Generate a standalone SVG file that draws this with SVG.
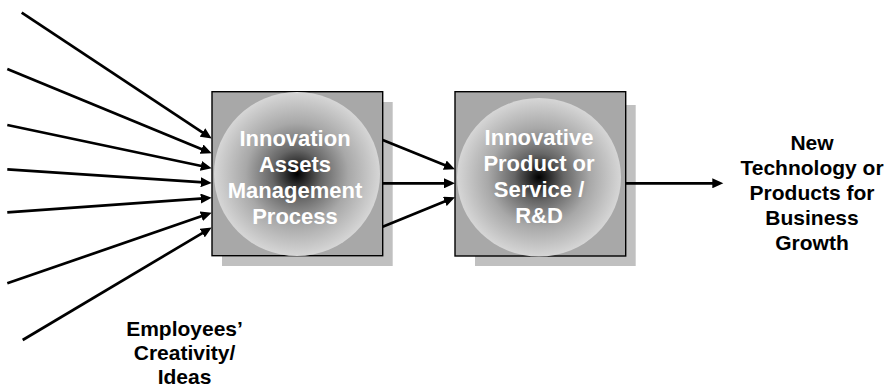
<svg xmlns="http://www.w3.org/2000/svg" width="891" height="388" viewBox="0 0 891 388">
<style>
.box{fill:#a8a8a8;stroke:#000;stroke-width:1.4}
.shadow{fill:#c0c0c0}
.inner{font-family:"Liberation Sans",Arial,Helvetica,sans-serif;font-weight:bold;font-size:22px;fill:#fff;text-anchor:middle}
.label{font-family:"Liberation Sans",Arial,Helvetica,sans-serif;font-weight:bold;font-size:21px;fill:#000;text-anchor:middle}
.conn line{stroke:#000;stroke-width:2.7;marker-end:url(#ah)}
</style>
<defs>
<radialGradient id="glow" cx="50%" cy="50%" r="50%">
<stop offset="0" stop-color="#000"/>
<stop offset="0.3" stop-color="#666"/>
<stop offset="0.62" stop-color="#a8a8a8"/>
<stop offset="1" stop-color="#d6d6d6"/>
</radialGradient>
<marker id="ah" markerUnits="userSpaceOnUse" markerWidth="12" markerHeight="10" refX="3" refY="5" orient="auto">
<path d="M0,0 L11,5 L0,10 z" fill="#000"/>
</marker>
</defs>
<g id="node-iamp">
<rect class="shadow" x="222" y="102" width="170.7" height="164"/>
<rect class="box" x="212" y="91.7" width="170.7" height="164"/>
<ellipse cx="297" cy="174" rx="83" ry="82" fill="url(#glow)"/>
<text class="inner" x="295" y="146">Innovation</text>
<text class="inner" x="295" y="172">Assets</text>
<text class="inner" x="295" y="198">Management</text>
<text class="inner" x="295" y="224">Process</text>
</g>
<g id="node-product">
<rect class="shadow" x="475" y="105" width="160.7" height="161"/>
<rect class="box" x="455" y="91.7" width="170.7" height="164.3"/>
<ellipse cx="539" cy="177.3" rx="82" ry="79.3" fill="url(#glow)"/>
<text class="inner" x="539" y="145">Innovative</text>
<text class="inner" x="539" y="171">Product or</text>
<text class="inner" x="539" y="197">Service /</text>
<text class="inner" x="539" y="223">R&amp;D</text>
</g>
<g id="node-output">
<text class="label" x="812" y="150">New</text>
<text class="label" x="812" y="175">Technology or</text>
<text class="label" x="812" y="200">Products for</text>
<text class="label" x="812" y="225">Business</text>
<text class="label" x="812" y="250">Growth</text>
</g>
<g id="node-employees">
<text class="label" x="184.5" y="336">Employees’</text>
<text class="label" x="184.5" y="360">Creativity/</text>
<text class="label" x="184.5" y="384">Ideas</text>
</g>
<g id="connectors" class="conn">
<line x1="21.7" y1="12.7" x2="205.03" y2="134.08"/>
<line x1="7.3" y1="69" x2="204.3" y2="150.25"/>
<line x1="7.3" y1="125" x2="203.87" y2="166.55"/>
<line x1="7.3" y1="169.3" x2="203.72" y2="182.46"/>
<line x1="7.3" y1="212.3" x2="203.72" y2="198.37"/>
<line x1="7.3" y1="283.3" x2="204.14" y2="215.31"/>
<line x1="22.7" y1="340" x2="204.82" y2="231.59"/>
<line x1="382.7" y1="140" x2="447.58" y2="166.3"/>
<line x1="382.7" y1="183.3" x2="447" y2="183.3"/>
<line x1="382.7" y1="226.7" x2="447.59" y2="200.31"/>
<line x1="625.7" y1="183.3" x2="715.3" y2="183.3"/>
</g>
</svg>
